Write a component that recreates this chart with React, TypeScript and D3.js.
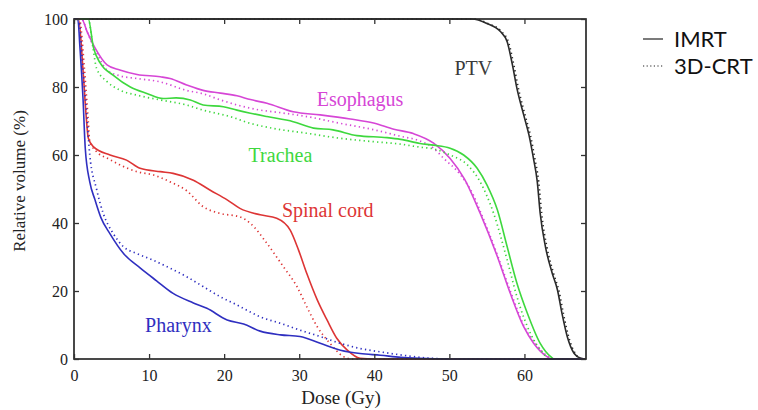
import React, { useRef, useEffect } from "react";
import * as d3 from "d3";

// [dose (Gy), relative volume (%)]
const ptvImrt = [[0,100],[53,100],[55,98.7],[56.8,96.3],[57.7,93.3],[58.4,86.5],[59,79.6],[59.9,71.8],[60.6,65.9],[61.2,59],[61.7,52.3],[62.1,42.8],[62.8,33],[63.7,25.2],[64.4,20.3],[65,13.4],[65.7,6.6],[66.6,1.7],[67.5,0.2],[68,0]];
const ptv3d = [[0,100],[53.3,100],[55.2,98.6],[57,96.2],[57.9,93],[58.6,86.3],[59.2,79.5],[60.1,71.6],[60.8,65.7],[61.4,58.8],[61.9,52.1],[62.3,42.6],[63,32.8],[63.9,25],[64.6,20],[65.2,13.2],[65.9,6.4],[66.8,1.5],[67.6,0.1],[68,0]];

const esoImrt = [[0,100],[1,100],[1.8,96],[2.8,91.5],[4.4,86.5],[6.1,85],[8.4,83.7],[11.5,83],[12.8,82.5],[15,80.6],[17.2,79],[19.5,78.2],[21.7,77.4],[23.5,76.3],[25.7,75.2],[29.2,72.7],[32.8,71.8],[36.8,70.6],[39.9,69.4],[42.6,67.6],[45.2,66.3],[47.9,63.5],[50.1,59],[52,53],[54.1,42.9],[56.4,30.1],[58.1,19.4],[59.9,9.5],[61.2,4.7],[63,0.7],[63.6,0],[68,0]];
const eso3d = [[0,100],[1,100],[1.8,96],[2.8,91],[4.4,85],[6.1,83.3],[8.4,82.5],[11.5,81.5],[15,79],[17.2,78],[19.5,76.2],[22.1,74.5],[24.8,73.2],[26.6,72.7],[31,71.3],[35.5,69.3],[40,67.4],[43.5,65.5],[46,64.2],[47.9,62],[49.2,59.1],[51.5,54.1],[53.2,48.2],[54.2,43],[56.5,30],[58.2,19.5],[60,9.5],[61.4,4.7],[63.2,0.7],[63.9,0],[68,0]];

const traImrt = [[0,100],[1.9,100],[2.6,91.5],[3.5,87],[5.2,83.5],[7.5,80],[9.7,78.1],[11.9,76.6],[13.6,76.8],[15.5,76.2],[17.2,74.7],[19.9,74.2],[21.7,73.2],[23.5,72.3],[25.7,71.3],[29.2,69.8],[31.9,67.9],[34.5,67.4],[37.7,65.7],[41.7,65.1],[43.5,64.6],[46.1,63.4],[47.9,62.9],[50.1,62],[51.9,60],[53.7,56.1],[55,51.2],[56.4,43.8],[57.7,33],[59,22.3],[60.4,13.4],[62.1,4.6],[63.5,0.7],[64,0],[68,0]];
const tra3d = [[0,100],[1.9,100],[2.5,92],[3,85.5],[4.4,81.6],[6.1,79.1],[8.4,77.6],[11.5,76.2],[15,74.7],[17.2,73.2],[20.8,71.3],[23.5,69.3],[26.6,67.8],[31,66.4],[35.5,64.9],[40,63.9],[43.5,63.2],[46.1,62.3],[47.9,61.8],[50.1,60],[52.4,57.1],[54.1,52.1],[55.9,42.8],[57.7,29.1],[59,18.3],[60.8,7.5],[62.5,1.7],[63.3,0],[68,0]];

const cordImrt = [[0,100],[0.6,100],[1.2,85],[1.6,72],[1.9,65],[2.6,62.4],[4.8,60],[7,58.5],[8.8,56.1],[11.5,55.1],[13.2,54.6],[15.9,52.6],[18.1,49.7],[20.4,46.8],[22.1,44.3],[24.8,42.4],[27,41.4],[28.8,37.9],[29.9,32.1],[31,25.2],[32.4,17.4],[33.7,11.5],[35,6.1],[36.4,2.6],[38.1,0.2],[40,0],[68,0]];
const cord3d = [[0,100],[0.7,100],[1.4,85],[1.9,70],[2.1,64],[3,61],[4.5,59],[6.1,57.1],[8.4,55.1],[10.6,54.1],[12.8,52.1],[15,49.5],[17.2,44.8],[19.5,42.8],[22.1,41.8],[23.5,39.9],[25.7,34],[27.9,27.1],[29.7,21.3],[31,15.4],[32.4,9.5],[34.1,4.6],[35.9,0.7],[37,0],[68,0]];

const phxImrt = [[0,100],[0.5,100],[0.8,91.4],[1.2,76.7],[1.5,62],[2.1,52.1],[2.8,46.8],[3.6,41.5],[4.8,36.8],[6.6,31],[8.8,26.8],[11,23],[13.2,19.3],[15.9,16.5],[17.7,14.9],[20.4,11.5],[22.6,10.3],[24.8,8.2],[27.5,7.1],[30.1,6.6],[32.8,4.6],[35.5,2.6],[38.1,1.6],[40.8,1.1],[43.5,0.5],[46,0.2],[50,0],[68,0]];
const phx3d = [[0,100],[0.6,100],[1.2,85],[1.7,71.8],[2.1,60],[3,50],[3.9,42.8],[5.2,37],[6.6,33],[8.4,31],[10.6,29],[12.8,26.7],[15,24.2],[17.2,21.3],[19.5,18.3],[21.7,15.9],[23.5,13.8],[24.8,12.4],[27.5,10.5],[30.1,8.5],[32.8,6.6],[35.5,4.6],[38.1,3.1],[40.8,2.1],[43.5,1.2],[46,0.5],[50,0],[68,0]];

const xTicks = [0, 10, 20, 30, 40, 50, 60];
const yTicks = [0, 20, 40, 60, 80, 100];

const organs = [
  { name: "PTV", color: "#2a2a2a", imrt: ptvImrt, crt: ptv3d, label: [53.2, 83.5] },
  { name: "Esophagus", color: "#d646d6", imrt: esoImrt, crt: eso3d, label: [38.1, 74.5] },
  { name: "Trachea", color: "#3ed83e", imrt: traImrt, crt: tra3d, label: [27.5, 58] },
  { name: "Spinal cord", color: "#dd3535", imrt: cordImrt, crt: cord3d, label: [33.8, 41.8] },
  { name: "Pharynx", color: "#2f2fc0", imrt: phxImrt, crt: phx3d, label: [13.9, 8] },
];

const legendItems = [
  { name: "IMRT", dash: null },
  { name: "3D-CRT", dash: "1.2,2.4" },
];

const serif = "'Liberation Serif', serif";

export default function App() {
  const ref = useRef(null);

  useEffect(() => {
    const svg = d3.select(ref.current);
    svg.selectAll("*").remove();

    const left = 74, right = 586, top = 19, bottom = 359;
    const x = d3.scaleLinear().domain([0, 68.2]).range([left, right]);
    const y = d3.scaleLinear().domain([0, 100]).range([bottom, top]);

    const line = d3.line()
      .x((d) => x(d[0]))
      .y((d) => y(d[1]))
      .curve(d3.curveMonotoneX);

    const g = svg.append("g");

    organs.forEach((o) => {
      g.append("path")
        .attr("d", line(o.crt))
        .attr("fill", "none")
        .attr("stroke", o.color)
        .attr("stroke-width", 1.7)
        .attr("stroke-dasharray", "1.3,3.2");
      g.append("path")
        .attr("d", line(o.imrt))
        .attr("fill", "none")
        .attr("stroke", o.color)
        .attr("stroke-width", 1.6);
      g.append("text")
        .attr("x", x(o.label[0]))
        .attr("y", y(o.label[1]))
        .attr("text-anchor", "middle")
        .attr("font-family", serif)
        .attr("font-size", 20)
        .attr("fill", o.name === "PTV" ? "#3a3a3a" : o.color)
        .text(o.name);
    });

    // frame
    svg.append("rect")
      .attr("x", left).attr("y", top)
      .attr("width", right - left).attr("height", bottom - top)
      .attr("fill", "none").attr("stroke", "#2a2a2a").attr("stroke-width", 1.7);

    const styleAxis = (sel) => {
      sel.select(".domain").remove();
      sel.selectAll("line").attr("stroke", "#333").attr("stroke-width", 1.3);
      sel.selectAll("text")
        .attr("font-family", serif)
        .attr("font-size", 16)
        .attr("fill", "#222");
    };

    svg.append("g")
      .attr("transform", `translate(0,${bottom})`)
      .call(d3.axisBottom(x).tickValues(xTicks).tickSizeInner(-5).tickSizeOuter(0).tickPadding(11))
      .call(styleAxis);
    svg.append("g")
      .attr("transform", `translate(0,${top})`)
      .call(d3.axisTop(x).tickValues(xTicks).tickSizeInner(-5).tickSizeOuter(0).tickFormat(() => ""))
      .call(styleAxis);
    svg.append("g")
      .attr("transform", `translate(${left},0)`)
      .call(d3.axisLeft(y).tickValues(yTicks).tickSizeInner(-5).tickSizeOuter(0).tickPadding(6))
      .call(styleAxis);
    svg.append("g")
      .attr("transform", `translate(${right},0)`)
      .call(d3.axisRight(y).tickValues(yTicks).tickSizeInner(-5).tickSizeOuter(0).tickFormat(() => ""))
      .call(styleAxis);

    svg.append("text")
      .attr("x", (left + right) / 2 + 11)
      .attr("y", 404)
      .attr("text-anchor", "middle")
      .attr("font-family", serif)
      .attr("font-size", 19)
      .attr("fill", "#222")
      .text("Dose (Gy)");

    svg.append("text")
      .attr("transform", `translate(25,${(top + bottom) / 2 - 8}) rotate(-90)`)
      .attr("text-anchor", "middle")
      .attr("font-family", serif)
      .attr("font-size", 17)
      .attr("fill", "#222")
      .text("Relative volume (%)");

    // legend
    const lg = svg.append("g").attr("transform", "translate(643,39)");
    legendItems.forEach((d, i) => {
      lg.append("line")
        .attr("x1", 0).attr("x2", 20)
        .attr("y1", i * 27).attr("y2", i * 27)
        .attr("stroke", "#222")
        .attr("stroke-width", 1.2)
        .attr("stroke-dasharray", d.dash);
      lg.append("text")
        .attr("x", 31)
        .attr("y", i * 27 + 8)
        .attr("font-family", "Lato, sans-serif")
        .attr("font-size", 22)
        .attr("fill", "#111")
        .text(d.name);
    });
  }, []);

  return (
    <svg
      ref={ref}
      width="758"
      height="410"
      style={{ position: "absolute", left: 0, top: 0, background: "#fff" }}
    ></svg>
  );
}
